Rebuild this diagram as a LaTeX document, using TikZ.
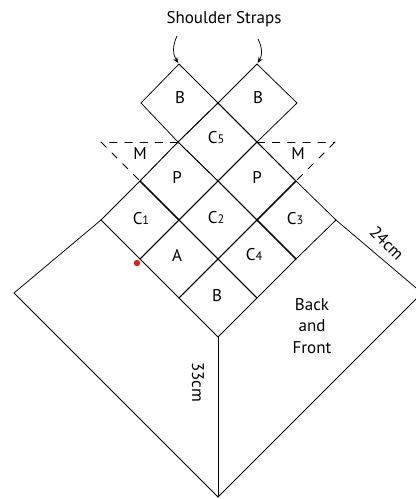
\documentclass[tikz,border=0pt]{standalone}
\usepackage{tkz-euclide, fontspec}
\setmainfont{PT Sans}
\usetikzlibrary{arrows.meta}
\definecolor{dotred}{RGB}{217,38,28}
\tikzset{lbl/.style = {font=\fontsize{14.5}{18.7}\selectfont, inner sep=0pt},
         thin line/.style = {line width=0.65pt},
         thick line/.style = {line width=1pt},
         dash line/.style = {line width=0.65pt, dash pattern=on 6.5pt off 6.5pt}}
\newcommand{\Csub}[1]{C{\fontsize{10.5}{12}\selectfont #1}}

\begin{document}
\begin{tikzpicture}[x=0.03cm, y=-0.03cm]
\useasboundingbox (0,0) rectangle (416,499);
\tkzDefPoints{218/103/O, 179/64/BLt, 141/103/BLl, 257/64/BRt, 297/103/BRr,
  178/142/Pl, 257/142/Pr, 218/181/K, 140/181/Ml, 296/181/Mr, 101/142/Dl, 335/142/Dr,
  179/220/Q, 257/220/R, 101/220/Cl, 336/220/Cr, 140/259/S, 218/259/T, 296/259/U,
  179/298/V, 257/298/W, 218/337/Z, 14/293/E, 422/293/F, 218/497/Y}
% strap and centre squares
\tkzDrawPolygon[thin line](O,BLt,BLl,Pl)
\tkzDrawPolygon[thin line](O,BRt,BRr,Pr)
\tkzDrawPolygon[thin line](O,Pr,K,Pl)
\tkzDrawPolygon[thin line](Pl,K,Q,Ml)
\tkzDrawPolygon[thin line](Pr,Mr,R,K)
\tkzDrawPolygon[thin line](Ml,Q,S,Cl)
\tkzDrawPolygon[thin line](K,R,T,Q)
\tkzDrawPolygon[thin line](Mr,Cr,U,R)
\tkzDrawPolygon[thin line](Q,T,V,S)
\tkzDrawPolygon[thin line](R,U,W,T)
\tkzDrawPolygon[thin line](T,W,Z,V)
\tkzDrawSegment[thick line](Ml,Q)
\tkzDrawSegment[thick line](Mr,R)
\tkzDrawSegment[thick line](R,U)
% back and front
\tkzDrawPolySeg[thin line](Cl,E,Y,F,Cr)
\tkzDrawSegment[thin line](Z,Y)
% flaps
\tkzDrawSegment[dash line](Pl,Dl)
\tkzDrawSegment[dash line](Dl,Ml)
\tkzDrawSegment[dash line](Pl,Ml)
\tkzDrawSegment[dash line](Pr,Dr)
\tkzDrawSegment[dash line](Dr,Mr)
\tkzDrawSegment[dash line](Pr,Mr)
% labels
\node[lbl] (title) at (224,19) {Shoulder Straps};
\node[lbl] (bl) at (180,98) {B};
\node[lbl] (br) at (258,98) {B};
\node[lbl] (c5) at (216,138) {\Csub{5}};
\node[lbl] (ml) at (140,154) {M};
\node[lbl] (mr) at (298,154) {M};
\node[lbl] (pl) at (177,177) {P};
\node[lbl] (pr) at (257,177) {P};
\node[lbl] (c1) at (141,219) {\Csub{1}};
\node[lbl] (c2) at (216,218) {\Csub{2}};
\node[lbl] (c3) at (295,219) {\Csub{3}};
\node[lbl] (a) at (177,255) {A};
\node[lbl] (c4) at (254,255) {\Csub{4}};
\node[lbl] (b) at (217,296) {B};
\node[lbl, align=center] (back) at (312,326) {Back\\and\\Front};
\node[lbl, rotate=-45] (w) at (387,243) {24cm};
\node[lbl, rotate=-90] (h) at (198,382) {33cm};
\node[circle, fill=dotred, inner sep=0pt, minimum size=5.5pt] (dot) at (137,263) {};
% arrows
\coordinate (al) at (177,36);
\coordinate (ar) at (258,39);
\draw[thin line, -{Stealth[length=5pt,width=4pt]}, shorten >=1pt] (al) to[bend right=30] (BLt);
\draw[thin line, -{Stealth[length=5pt,width=4pt]}, shorten >=1pt] (ar) to[bend left=30] (BRt);
\end{tikzpicture}
\end{document}
